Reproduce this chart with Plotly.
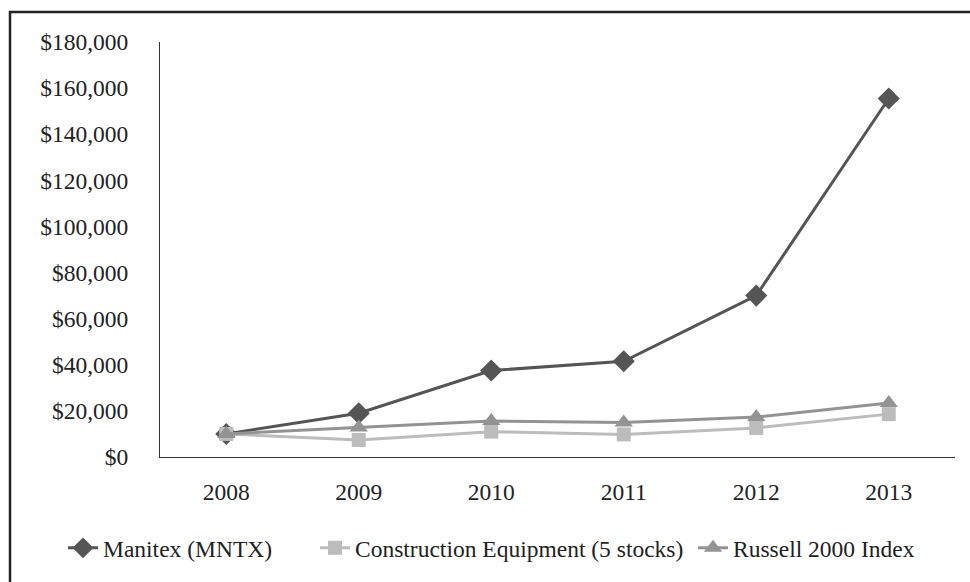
import plotly.graph_objects as go

years = ["2008", "2009", "2010", "2011", "2012", "2013"]
manitex = [10000, 19000, 37500, 41500, 70000, 155500]
construction = [10000, 7400, 11000, 9800, 12600, 18600]
russell = [10000, 12800, 15600, 15000, 17300, 23400]
y_ticks = [0, 20000, 40000, 60000, 80000, 100000, 120000, 140000, 160000, 180000]
y_labels = ["$0", "$20,000", "$40,000", "$60,000", "$80,000", "$100,000",
            "$120,000", "$140,000", "$160,000", "$180,000"]

FONT = "Liberation Serif, Times New Roman, serif"
FS = 23.5

fig = go.Figure()
fig.add_trace(go.Scatter(x=years, y=manitex, name="Manitex (MNTX)", mode="lines+markers",
                         line=dict(color="#555555", width=3),
                         marker=dict(symbol="diamond", size=17, color="#555555"),
                         legend="legend"))
fig.add_trace(go.Scatter(x=years, y=construction, name="Construction Equipment (5 stocks)", mode="lines+markers",
                         line=dict(color="#bcbcbc", width=3),
                         marker=dict(symbol="square", size=14, color="#bcbcbc"),
                         legend="legend2"))
fig.add_trace(go.Scatter(x=years, y=russell, name="Russell 2000 Index", mode="lines+markers",
                         line=dict(color="#939393", width=3),
                         marker=dict(symbol="triangle-up", size=16, color="#939393"),
                         legend="legend3"))

def leg(px_left):
    return dict(orientation="h", xref="container", yref="container",
                x=px_left / 970, xanchor="left", y=1 - 548 / 582, yanchor="middle",
                font=dict(family=FONT, size=FS, color="#222222"),
                itemwidth=30, bgcolor="rgba(0,0,0,0)")

fig.update_layout(
    width=970, height=582,
    margin=dict(l=160, r=15, t=42, b=125),
    paper_bgcolor="white", plot_bgcolor="white",
    font=dict(family=FONT, size=FS, color="#222222"),
    showlegend=True,
    legend=leg(63), legend2=leg(315), legend3=leg(693),
    xaxis=dict(type="category", range=[-0.5, 5.5], showgrid=False, showline=True,
               linecolor="#333333", linewidth=1,
               ticks="", ticklabelstandoff=14, zeroline=False, automargin=False),
    yaxis=dict(range=[0, 180000], tickvals=y_ticks, ticktext=y_labels, showgrid=False,
               showline=True, linecolor="#333333", linewidth=1, ticks="",
               ticklabelstandoff=26, zeroline=False, automargin=False),
    shapes=[dict(type="rect", xref="paper", yref="paper",
                 x0=-150/795, x1=830/795, y0=-150/415, y1=(457-12)/415,
                 line=dict(color="#222222", width=2.5), fillcolor="rgba(0,0,0,0)")],
)

fig.write_html("out.html", config={"displayModeBar": False},
               post_script="document.body.style.margin='0';document.body.style.overflow='hidden';")
